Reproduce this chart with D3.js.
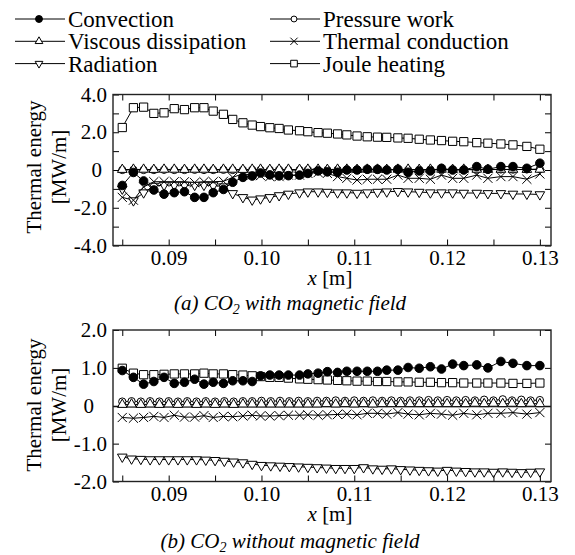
<!DOCTYPE html>
<html>
<head>
<meta charset="utf-8">
<script src="https://cdn.jsdelivr.net/npm/d3@7"></script>
<style>
	body { margin: 0; background: #fff; }
	svg, svg text { font-family: "Liberation Serif", "Times New Roman", Times, serif; }
</style>
</head>
<body>
<div class="chart"></div>
<script>
'use strict';

var FONT = '"Liberation Serif", "Times New Roman", Times, serif';

// x positions [m]; the coarse grid is used by most series, the fine one by a few in panel (b)
var xCoarse = [0.0850, 0.0862, 0.0873, 0.0884, 0.0895, 0.0906, 0.0917, 0.0928, 0.0938, 0.0948,
	0.0959, 0.0969, 0.0980, 0.0990, 0.0999, 0.1009, 0.1019, 0.1029, 0.1041, 0.1050,
	0.1061, 0.1071, 0.1082, 0.1092, 0.1103, 0.1114, 0.1125, 0.1135, 0.1147, 0.1158,
	0.1170, 0.1182, 0.1194, 0.1206, 0.1218, 0.1232, 0.1244, 0.1258, 0.1271, 0.1286, 0.1300];
var xFine = [0.085, 0.086, 0.087, 0.088, 0.089, 0.090, 0.091, 0.092, 0.093, 0.094,
	0.095, 0.096, 0.097, 0.098, 0.099, 0.100, 0.101, 0.102, 0.103, 0.104,
	0.105, 0.106, 0.107, 0.108, 0.109, 0.110, 0.111, 0.112, 0.113, 0.114,
	0.115, 0.116, 0.117, 0.118, 0.119, 0.120, 0.121, 0.122, 0.123, 0.124,
	0.125, 0.126, 0.127, 0.128, 0.129, 0.130];

// (a) CO2 with magnetic field, MW/m
var aConvection = [-0.82, -0.13, -0.58, -1.06, -1.28, -1.20, -1.15, -1.45, -1.45, -1.20,
	-1.03, -0.65, -0.39, -0.32, -0.16, -0.26, -0.31, -0.30, -0.27, -0.18,
	-0.05, -0.10, -0.12, 0.00, 0.00, 0.04, 0.04, 0.00, 0.04, -0.12,
	-0.05, -0.05, 0.09, 0.00, 0.00, 0.18, 0.04, 0.18, 0.18, 0.09, 0.36];
var aPressure = [0.00, 0.01, 0.00, 0.00, 0.01, 0.00, 0.00, 0.01, 0.00, 0.00,
	0.01, 0.00, 0.00, 0.01, 0.00, 0.00, 0.01, 0.00, 0.00, 0.01,
	0.00, 0.00, 0.01, 0.00, 0.01, 0.01, 0.00, 0.01, 0.01, 0.00,
	0.01, 0.02, 0.01, 0.02, 0.02, 0.01, 0.02, 0.03, 0.02, 0.03, 0.05];
var aViscous = [0.02, 0.03, 0.03, 0.02, 0.03, 0.03, 0.02, 0.03, 0.03, 0.02,
	0.03, 0.03, 0.02, 0.03, 0.03, 0.02, 0.03, 0.03, 0.02, 0.03,
	0.03, 0.02, 0.03, 0.03, 0.02, 0.03, 0.03, 0.02, 0.03, 0.03,
	0.02, 0.03, 0.03, 0.02, 0.03, 0.03, 0.02, 0.03, 0.03, 0.02, 0.03];
var aConduction = [-1.45, -1.60, -0.90, -0.62, -0.62, -0.62, -0.62, -0.67, -0.62, -0.62,
	-0.60, -0.39, -0.20, -0.27, -0.30, -0.35, -0.35, -0.27, -0.27, -0.18,
	-0.14, -0.18, -0.35, -0.44, -0.53, -0.49, -0.49, -0.49, -0.27, -0.44,
	-0.44, -0.49, -0.27, -0.44, -0.44, -0.27, -0.44, -0.35, -0.35, -0.49, -0.21];
var aRadiation = [-1.00, -1.62, -1.20, -0.85, -0.80, -0.80, -0.80, -0.80, -0.80, -0.82,
	-0.88, -1.24, -1.45, -1.58, -1.52, -1.45, -1.35, -1.27, -1.20, -1.15,
	-1.15, -1.17, -1.20, -1.20, -1.22, -1.20, -1.17, -1.15, -1.13, -1.15,
	-1.17, -1.20, -1.20, -1.20, -1.22, -1.22, -1.24, -1.24, -1.27, -1.27, -1.30];
var aJoule = [2.25, 3.30, 3.33, 3.00, 3.03, 3.25, 3.20, 3.30, 3.30, 3.12,
	2.95, 2.68, 2.50, 2.38, 2.30, 2.24, 2.20, 2.12, 2.08, 2.03,
	1.98, 1.95, 1.91, 1.86, 1.80, 1.76, 1.74, 1.73, 1.70, 1.68,
	1.63, 1.59, 1.56, 1.52, 1.50, 1.45, 1.42, 1.38, 1.33, 1.25, 1.10];

// (b) CO2 without magnetic field, MW/m
var bConvection = [0.93, 0.75, 0.57, 0.64, 0.75, 0.59, 0.62, 0.70, 0.57, 0.62,
	0.59, 0.66, 0.66, 0.64, 0.79, 0.81, 0.81, 0.81, 0.81, 0.84,
	0.86, 0.90, 0.88, 0.91, 0.91, 0.91, 0.91, 0.94, 0.94, 1.01,
	0.99, 1.03, 0.97, 1.10, 1.06, 1.08, 1.00, 1.17, 1.12, 1.06, 1.06];
var bPressure = [0.11, 0.12, 0.11, 0.12, 0.11, 0.12, 0.11, 0.12, 0.11, 0.12,
	0.11, 0.12, 0.11, 0.12, 0.12, 0.13, 0.12, 0.13, 0.12, 0.13,
	0.12, 0.13, 0.13, 0.14, 0.13, 0.14, 0.13, 0.14, 0.13, 0.14,
	0.13, 0.14, 0.14, 0.15, 0.14, 0.15, 0.14, 0.15, 0.14, 0.16,
	0.14, 0.17, 0.14, 0.16, 0.14, 0.15];
var bViscous = [0.03, 0.04, 0.03, 0.04, 0.03, 0.04, 0.03, 0.04, 0.03, 0.04,
	0.03, 0.04, 0.03, 0.04, 0.04, 0.04, 0.04, 0.04, 0.04, 0.04,
	0.04, 0.04, 0.05, 0.04, 0.05, 0.04, 0.05, 0.04, 0.05, 0.05,
	0.05, 0.05, 0.05, 0.05, 0.05, 0.05, 0.05, 0.05, 0.06, 0.05,
	0.06, 0.05, 0.06, 0.05, 0.06, 0.05];
var bConduction = [-0.31, -0.33, -0.31, -0.28, -0.31, -0.25, -0.30, -0.30, -0.26, -0.31,
	-0.28, -0.29, -0.27, -0.25, -0.27, -0.27, -0.26, -0.25, -0.25, -0.24,
	-0.25, -0.24, -0.23, -0.22, -0.24, -0.20, -0.20, -0.22, -0.18, -0.22,
	-0.24, -0.20, -0.22, -0.25, -0.20, -0.24, -0.20, -0.20, -0.18, -0.22, -0.18];
var bRadiation = [-1.35, -1.40, -1.41, -1.42, -1.42, -1.42, -1.42, -1.42, -1.42, -1.43,
	-1.44, -1.46, -1.48, -1.50, -1.54, -1.57, -1.58, -1.59, -1.60, -1.61,
	-1.62, -1.63, -1.64, -1.65, -1.65, -1.65, -1.63, -1.66, -1.67, -1.66,
	-1.68, -1.69, -1.70, -1.71, -1.72, -1.70, -1.72, -1.73, -1.74, -1.74,
	-1.75, -1.74, -1.75, -1.76, -1.75, -1.74];
var bJoule = [0.99, 0.86, 0.82, 0.82, 0.83, 0.84, 0.84, 0.84, 0.86, 0.84,
	0.84, 0.82, 0.81, 0.79, 0.77, 0.75, 0.75, 0.73, 0.71, 0.70,
	0.69, 0.68, 0.67, 0.66, 0.65, 0.65, 0.64, 0.64, 0.63, 0.63,
	0.62, 0.62, 0.61, 0.61, 0.60, 0.60, 0.60, 0.60, 0.59, 0.59, 0.60];

// ticks and labels
var xTicks = [0.085, 0.09, 0.095, 0.10, 0.105, 0.11, 0.115, 0.12, 0.125, 0.13];
var xTickLabels = ['', '0.09', '', '0.10', '', '0.11', '', '0.12', '', '0.13'];
var aYTicks = [-4, -3, -2, -1, 0, 1, 2, 3, 4];
var aYTickLabels = ['-4.0', '', '-2.0', '', '0', '', '2.0', '', '4.0'];
var bYTicks = [-2, -1, 0, 1, 2];
var bYTickLabels = ['-2.0', '-1.0', '0', '1.0', '2.0'];

var seriesNames = ['Convection', 'Pressure work', 'Viscous dissipation',
	'Thermal conduction', 'Radiation', 'Joule heating'];

var svg = d3.select('.chart').append('svg')
	.attr('width', 575).attr('height', 555)
	.attr('font-family', FONT);

var x = d3.scaleLinear().domain([0.084, 0.1312]).range([113, 551]);

var markers = {
	'Convection': { type: d3.symbolCircle, size: 58, fill: '#000', rot: 0 },
	'Pressure work': { type: d3.symbolCircle, size: 42, fill: '#fff', rot: 0 },
	'Viscous dissipation': { type: d3.symbolTriangle, size: 40, fill: '#fff', rot: 0 },
	'Thermal conduction': { type: d3.symbolTimes, size: 56, fill: 'none', rot: 0 },
	'Radiation': { type: d3.symbolTriangle, size: 40, fill: '#fff', rot: 180 },
	'Joule heating': { type: d3.symbolSquare, size: 68, fill: '#fff', rot: 0 }
};

function drawMarker(g, name, cx, cy, scale) {
	var m = markers[name];
	g.append('path')
		.attr('d', d3.symbol().type(m.type).size(m.size * (scale || 1))())
		.attr('transform', 'translate(' + cx + ',' + cy + ') rotate(' + m.rot + ')')
		.attr('fill', m.fill)
		.attr('stroke', '#000')
		.attr('stroke-width', 1);
}

/**
 * Draws one panel of the figure.
 */
function drawPanel(p) {
	var y = d3.scaleLinear().domain(p.yDomain).range(p.yRange);
	var g = svg.append('g');
	var x0 = x.range()[0], x1 = x.range()[1];

	if (p.zeroLine) {
		g.append('line')
			.attr('x1', x0).attr('x2', x1)
			.attr('y1', y(0) + 1).attr('y2', y(0) + 1)
			.attr('stroke', '#000').attr('stroke-width', 1);
	}

	var line = d3.line().x(function(d) { return x(d[0]); }).y(function(d) { return y(d[1]); });

	p.series.forEach(function(s) {
		g.append('path')
			.attr('d', line(d3.zip(s.xs, s.values)))
			.attr('fill', 'none')
			.attr('stroke', '#000')
			.attr('stroke-width', 1);
	});

	p.series.forEach(function(s) {
		d3.zip(s.xs, s.values).forEach(function(d) {
			drawMarker(g, s.name, x(d[0]), y(d[1]));
		});
	});

	// axes with inward ticks on all four sides
	var yBottom = p.yRange[0], yTop = p.yRange[1];

	g.append('g')
		.attr('transform', 'translate(0,' + yBottom + ')')
		.call(d3.axisBottom(x).tickValues(xTicks).tickSizeInner(-6).tickSizeOuter(0).tickPadding(5)
			.tickFormat(function(d, i) { return xTickLabels[i]; }));
	g.append('g')
		.attr('transform', 'translate(0,' + yTop + ')')
		.call(d3.axisTop(x).tickValues(xTicks).tickSizeInner(-6).tickSizeOuter(0).tickFormat(''));

	var leftAxis = g.append('g')
		.attr('transform', 'translate(' + x0 + ',0)')
		.call(d3.axisLeft(y).tickValues(p.yTicks).tickSizeInner(-6).tickSizeOuter(0).tickPadding(6)
			.tickFormat(function(d, i) { return p.yTickLabels[i]; }));
	g.append('g')
		.attr('transform', 'translate(' + x1 + ',0)')
		.call(d3.axisRight(y).tickValues(p.yTicks).tickSizeInner(-6).tickSizeOuter(0).tickFormat(''));

	g.selectAll('.domain').remove();
	g.selectAll('.tick').each(function() {
		d3.select(this.parentNode).attr('font-family', FONT).attr('font-size', 21);
	});
	g.selectAll('.tick line').attr('stroke', '#000');
	g.selectAll('.tick text').attr('fill', '#000');
	leftAxis.selectAll('.tick text')
		.filter(function(d) { return d === 0; })
		.attr('dx', p.zeroShift);

	g.append('rect')
		.attr('x', x0).attr('y', yTop)
		.attr('width', x1 - x0).attr('height', yBottom - yTop)
		.attr('fill', 'none').attr('stroke', '#222').attr('stroke-width', 1.4);

	// y title
	var title = g.append('g')
		.attr('transform', 'translate(0,' + p.titleY + ') rotate(-90)')
		.attr('text-anchor', 'middle')
		.attr('font-size', 21);
	title.append('text').attr('x', 0).attr('y', 41).text('Thermal energy');
	title.append('text').attr('x', 0).attr('y', 66).text('[MW/m]');

	// x title
	var xt = g.append('text')
		.attr('x', 330).attr('y', p.xTitleY)
		.attr('text-anchor', 'middle')
		.attr('font-size', 21);
	xt.append('tspan').attr('font-style', 'italic').text('x');
	xt.append('tspan').text(' [m]');

	// caption
	var cap = g.append('text')
		.attr('x', 290).attr('y', p.captionY)
		.attr('text-anchor', 'middle')
		.attr('font-size', 21)
		.attr('font-style', 'italic');
	cap.append('tspan').text(p.caption[0]);
	cap.append('tspan').attr('font-size', 14).attr('dy', 4).text('2');
	cap.append('tspan').attr('dy', -4).text(p.caption[1]);
}

function drawLegend() {
	var g = svg.append('g').attr('font-size', 23);
	seriesNames.forEach(function(name, i) {
		var col = i % 2, row = Math.floor(i / 2);
		var lx = col === 0 ? 15 : 270;
		var base = 27 + row * 22.3;
		var ly = base - 8;
		g.append('line')
			.attr('x1', lx).attr('x2', lx + 50)
			.attr('y1', ly).attr('y2', ly)
			.attr('stroke', '#000').attr('stroke-width', 1);
		drawMarker(g, name, lx + 24, ly, 0.65);
		g.append('text').attr('x', lx + 53).attr('y', base).text(name);
	});
}

drawLegend();

drawPanel({
	yDomain: [-4, 4],
	yRange: [245.5, 94.5],
	yTicks: aYTicks,
	yTickLabels: aYTickLabels,
	zeroShift: -5,
	titleY: 167,
	xTitleY: 285,
	captionY: 310,
	caption: ['(a) CO', ' with magnetic field'],
	series: [
		{ name: 'Radiation', xs: xCoarse, values: aRadiation },
		{ name: 'Thermal conduction', xs: xCoarse, values: aConduction },
		{ name: 'Pressure work', xs: xCoarse, values: aPressure },
		{ name: 'Viscous dissipation', xs: xCoarse, values: aViscous },
		{ name: 'Joule heating', xs: xCoarse, values: aJoule },
		{ name: 'Convection', xs: xCoarse, values: aConvection }
	]
});

drawPanel({
	yDomain: [-2, 2],
	yRange: [481.5, 330],
	yTicks: bYTicks,
	yTickLabels: bYTickLabels,
	zeroShift: -13,
	zeroLine: true,
	titleY: 405,
	xTitleY: 521,
	captionY: 548,
	caption: ['(b) CO', ' without magnetic field'],
	series: [
		{ name: 'Radiation', xs: xFine, values: bRadiation },
		{ name: 'Thermal conduction', xs: xCoarse, values: bConduction },
		{ name: 'Pressure work', xs: xFine, values: bPressure },
		{ name: 'Viscous dissipation', xs: xFine, values: bViscous },
		{ name: 'Joule heating', xs: xCoarse, values: bJoule },
		{ name: 'Convection', xs: xCoarse, values: bConvection }
	]
});
</script>
</body>
</html>
